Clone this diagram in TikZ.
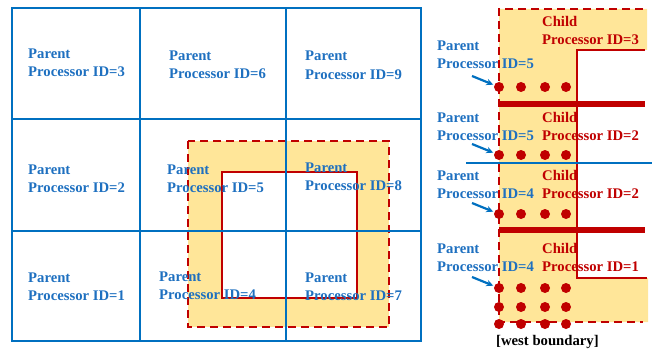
\documentclass[tikz,border=0pt]{standalone}
\usepackage{fontspec}
\setmainfont{Liberation Serif}
\usetikzlibrary{arrows.meta}
\definecolor{gridblue}{RGB}{0,112,192}
\definecolor{txtblue}{RGB}{30,112,192}
\definecolor{darkred}{RGB}{192,0,0}
\definecolor{haloyel}{RGB}{255,230,153}
% two-line label whose first baseline is the node's base
\newcommand\twoline[2]{\begin{tabular}[t]{@{}l@{}}#1\\#2\end{tabular}}
\begin{document}
\begin{tikzpicture}[x=1pt,y=-1pt,
  lbl/.style={anchor=base west, inner sep=0pt, font=\fontsize{14.7}{18}\selectfont\bfseries},
  parent/.style={lbl, text=txtblue},
  child/.style={lbl, text=darkred},
  gridline/.style={draw=gridblue, line width=2.8pt},
  halo/.style={draw=darkred, line width=2.8pt, dash pattern=on 8pt off 5pt},
  core/.style={draw=darkred, line width=2.8pt},
  seam/.style={draw=darkred, line width=6.5pt},
  dot/.style={circle, fill=darkred, minimum size=10pt, inner sep=0pt},
  pointer/.style={draw=gridblue, line width=2.2pt, -{Stealth[length=7pt,width=6.5pt]}, shorten >=1pt}]
\useasboundingbox (0,0) rectangle (656,353);

% ---------------- left panel: 3x3 parent decomposition ----------------
% halo region around the child domain
\fill[haloyel] (188,141) rectangle (389,327);
\fill[white] (222,172) rectangle (357,298);
\draw[core] (222,172) rectangle (357,298);
\draw[halo] (188,141) rectangle (389,327);
% parent grid
\draw[gridline] (12,8) rectangle (421,341);
\draw[gridline] (140,8) -- (140,341);
\draw[gridline] (286,8) -- (286,341);
\draw[gridline] (12,119) -- (421,119);
\draw[gridline] (12,231) -- (421,231);

\node[parent] (p3) at (28,59)  {\twoline{Parent}{Processor ID=3}};
\node[parent] (p6) at (169,60) {\twoline{Parent}{Processor ID=6}};
\node[parent] (p9) at (305,61) {\twoline{Parent}{Processor ID=9}};
\node[parent] (p2) at (28,174) {\twoline{Parent}{Processor ID=2}};
\node[parent] (p5) at (167,174) {\twoline{Parent}{Processor ID=5}};
\node[parent] (p8) at (305,172) {\twoline{Parent}{Processor ID=8}};
\node[parent] (p1) at (28,282) {\twoline{Parent}{Processor ID=1}};
\node[parent] (p4) at (159,281) {\twoline{Parent}{Processor ID=4}};
\node[parent] (p7) at (305,282) {\twoline{Parent}{Processor ID=7}};

% ---------------- right panel: west boundary detail ----------------
\fill[haloyel] (499,9) -- (647,9) -- (647,50) -- (577,50) -- (577,278)
  -- (648,278) -- (648,322) -- (499,322) -- cycle;
\draw[halo] (643,9) -- (499,9) -- (499,322) -- (643,322);
\draw[core] (645,50) -- (577,50) -- (577,278) -- (647,278);
\draw[seam] (499,104) -- (645,104);
\draw[seam] (499,230) -- (645,230);
\draw[draw=gridblue, line width=2.2pt] (466,163) -- (652,163);

% boundary points
\foreach \r/\y in {1/87,2/155,3/214,4/288,5/307,6/324}
  \foreach \c/\x in {1/499,2/521,3/545,4/566}
    \node[dot] (d\r\c) at (\x,\y) {};

\node[parent] (q1) at (437,51)  {\twoline{Parent}{Processor ID=5}};
\node[parent] (q2) at (437,122) {\twoline{Parent}{Processor ID=5}};
\node[parent] (q3) at (437,180) {\twoline{Parent}{Processor ID=4}};
\node[parent] (q4) at (437,253) {\twoline{Parent}{Processor ID=4}};
\node[child] (c1) at (542,27)  {\twoline{Child}{Processor ID=3}};
\node[child] (c2) at (542,122) {\twoline{Child}{Processor ID=2}};
\node[child] (c3) at (542,180) {\twoline{Child}{Processor ID=2}};
\node[child] (c4) at (542,253) {\twoline{Child}{Processor ID=1}};

\coordinate (a1) at (472,76);
\coordinate (a2) at (472,144);
\coordinate (a3) at (472,203);
\coordinate (a4) at (472,277);
\draw[pointer] (a1) -- (d11);
\draw[pointer] (a2) -- (d21);
\draw[pointer] (a3) -- (d31);
\draw[pointer] (a4) -- (d41);

\node[lbl, text=black] (wb) at (496,345) {[west boundary]};
\end{tikzpicture}
\end{document}
